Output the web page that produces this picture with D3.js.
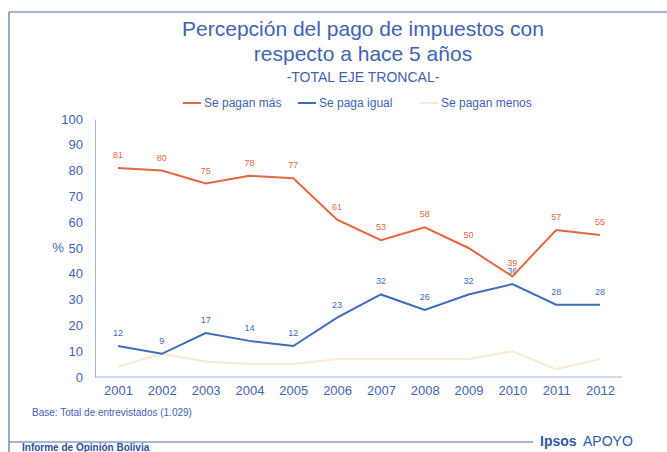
<!DOCTYPE html>
<html>
<head>
<meta charset="utf-8">
<script src="https://cdn.jsdelivr.net/npm/d3@7"></script>
<style>
  body { margin: 0; background: #fff; }
  text { font-family: "Liberation Sans", Arial, sans-serif; }
</style>
</head>
<body>
<svg id="chart" width="667" height="452"></svg>
<script>
const years = ["2001","2002","2003","2004","2005","2006","2007","2008","2009","2010","2011","2012"];
const pagan_mas = [81, 80, 75, 78, 77, 61, 53, 58, 50, 39, 57, 55];
const paga_igual = [12, 9, 17, 14, 12, 23, 32, 26, 32, 36, 28, 28];
const pagan_menos = [4, 9, 6, 5, 5, 7, 7, 7, 7, 10, 3, 7];
const yTicks = [0, 10, 20, 30, 40, 50, 60, 70, 80, 90, 100];

const series = [
  { name: "Se pagan más", values: pagan_mas, color: "#e8663f", labels: true },
  { name: "Se paga igual", values: paga_igual, color: "#3d6cc0", labels: true },
  { name: "Se pagan menos", values: pagan_menos, color: "#f7e9d2", labels: false }
];

const svg = d3.select("#chart");
const blue = "#3f63b5";

// frame
svg.append("line").attr("x1", 9).attr("x2", 667).attr("y1", 12).attr("y2", 12)
  .attr("stroke", "#4d6fae").attr("stroke-width", 1.2);
svg.append("line").attr("x1", 9).attr("x2", 9).attr("y1", 12).attr("y2", 452)
  .attr("stroke", "#4d6fae").attr("stroke-width", 1.2);
svg.append("line").attr("x1", 9).attr("x2", 533).attr("y1", 442).attr("y2", 442)
  .attr("stroke", "#4d6fae").attr("stroke-width", 1);

// titles
svg.append("text").attr("x", 363).attr("y", 36).attr("text-anchor", "middle")
  .attr("font-size", 21).attr("fill", blue).text("Percepción del pago de impuestos con");
svg.append("text").attr("x", 363).attr("y", 61).attr("text-anchor", "middle")
  .attr("font-size", 21).attr("fill", blue).text("respecto a hace 5 años");
svg.append("text").attr("x", 363).attr("y", 82).attr("text-anchor", "middle")
  .attr("font-size", 14).attr("fill", blue).text("-TOTAL EJE TRONCAL-");

// legend
const legendX = [183, 298, 420];
series.forEach((s, i) => {
  const g = svg.append("g").attr("transform", `translate(${legendX[i]},103)`);
  g.append("line").attr("x1", 0).attr("x2", 18).attr("y1", 0).attr("y2", 0)
    .attr("stroke", s.color).attr("stroke-width", 2);
  g.append("text").attr("x", 21).attr("y", 4).attr("font-size", 12)
    .attr("fill", blue).text(s.name);
});

// scales
const x = d3.scalePoint().domain(years).range([118, 600]);
const y = d3.scaleLinear().domain([0, 100]).range([377, 119]);

// axes
const yAxis = svg.append("g").attr("transform", "translate(95,0)")
  .call(d3.axisLeft(y).tickValues(yTicks).tickSize(0).tickPadding(12));
yAxis.select(".domain").attr("stroke", "#9bb4d8");
yAxis.selectAll("text").attr("font-size", 13).attr("fill", blue);

const xAxis = svg.append("g").attr("transform", "translate(0,377)")
  .call(d3.axisBottom(x).tickSize(0).tickPadding(9));
xAxis.select(".domain").attr("d", "M95,0H622").attr("stroke", "#9bb4d8");
xAxis.selectAll("text").attr("font-size", 13).attr("fill", blue);

svg.append("text").attr("x", 58).attr("y", 252).attr("text-anchor", "middle")
  .attr("font-size", 13).attr("fill", blue).text("%");

// lines
const line = d3.line().x((d, i) => x(years[i])).y(d => y(d));
series.slice().reverse().forEach(s => {
  svg.append("path").datum(s.values).attr("fill", "none")
    .attr("stroke", s.color).attr("stroke-width", 2).attr("d", line);
  if (s.labels) {
    svg.append("g").selectAll("text").data(s.values).join("text")
      .attr("x", (d, i) => x(years[i]))
      .attr("y", d => y(d) - 10)
      .attr("text-anchor", "middle").attr("font-size", 9)
      .attr("fill", s.color).text(d => d);
  }
});

// notes
svg.append("text").attr("x", 32).attr("y", 416).attr("font-size", 10)
  .attr("fill", blue).text("Base: Total de entrevistados (1.029)");
svg.append("text").attr("x", 22).attr("y", 451).attr("font-size", 10)
  .attr("font-weight", "bold").attr("fill", "#2f4f99").text("Informe de Opinión Bolivia");
svg.append("text").attr("x", 540).attr("y", 446).attr("font-size", 14)
  .attr("font-weight", "bold").attr("fill", "#2f5aa8").text("Ipsos");
svg.append("text").attr("x", 583).attr("y", 446).attr("font-size", 14)
  .attr("fill", "#2f5aa8").text("APOYO");
</script>
</body>
</html>
